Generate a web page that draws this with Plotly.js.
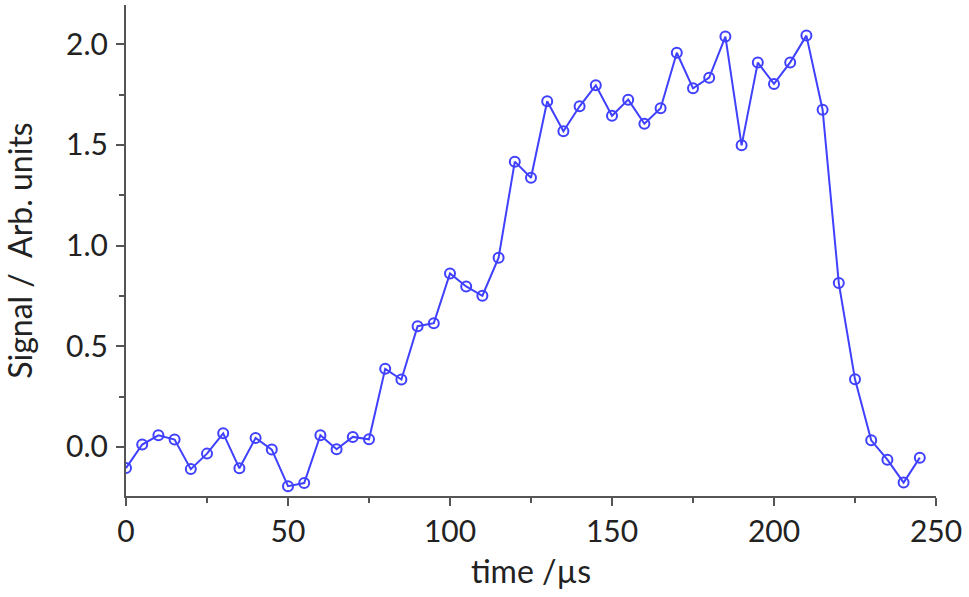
<!DOCTYPE html>
<html>
<head>
<meta charset="utf-8">
<script src="https://cdn.plot.ly/plotly-3.0.1.min.js"></script>
<style>
  html, body { margin: 0; padding: 0; background: #fff; }
  #chart { width: 969px; height: 597px; }
</style>
</head>
<body>
<div id="chart"></div>
<script>
// Data ------------------------------------------------------------------------
const time = [
  0, 5, 10, 15, 20, 25, 30, 35, 40, 45,
  50, 55, 60, 65, 70, 75, 80, 85, 90, 95,
  100, 105, 110, 115, 120, 125, 130, 135, 140, 145,
  150, 155, 160, 165, 170, 175, 180, 185, 190, 195,
  200, 205, 210, 215, 220, 225, 230, 235, 240, 245
]
const signal = [
  -0.105, 0.012, 0.058, 0.037, -0.11, -0.033, 0.068, -0.106, 0.045, -0.013,
  -0.195, -0.179, 0.058, -0.011, 0.05, 0.038, 0.388, 0.335, 0.60, 0.615,
  0.862, 0.797, 0.751, 0.94, 1.417, 1.337, 1.717, 1.568, 1.692, 1.796,
  1.645, 1.725, 1.605, 1.682, 1.958, 1.781, 1.834, 2.038, 1.498, 1.909,
  1.803, 1.91, 2.043, 1.675, 0.814, 0.336, 0.033, -0.063, -0.177, -0.053
]

// Plot ------------------------------------------------------------------------
const Plotly = window.Plotly
const blue = 'rgb(64,64,255)'
const tickFont = { family: 'Lato, "Open Sans", sans-serif', size: 30, color: '#222' }
const titleFont = { family: 'Lato, "Open Sans", sans-serif', size: 32, color: '#222' }

const axis = {
  showline: true,
  linecolor: '#555',
  linewidth: 2,
  ticks: 'outside',
  ticklen: 8,
  tickwidth: 2,
  tickcolor: '#555',
  showgrid: false,
  zeroline: false,
  mirror: false,
  tickfont: tickFont
}

Plotly.newPlot('chart', [{
  x: time,
  y: signal,
  type: 'scatter',
  mode: 'lines+markers',
  line: { color: blue, width: 2 },
  marker: {
    symbol: 'circle-open',
    size: 10,
    color: blue,
    line: { color: blue, width: 2 }
  }
}], {
  width: 969,
  height: 597,
  margin: { l: 126, r: 33, t: 5, b: 101 },
  paper_bgcolor: '#fff',
  plot_bgcolor: '#fff',
  showlegend: false,
  font: tickFont,
  xaxis: {
    ...axis,
    range: [0, 250],
    tick0: 0,
    dtick: 50,
    minor: { dtick: 25, ticks: 'outside', ticklen: 5, tickwidth: 2, tickcolor: '#555' },
    title: { text: 'time /µs', font: titleFont, standoff: 14 }
  },
  yaxis: {
    ...axis,
    range: [-0.2435, 2.195],
    tick0: 0,
    dtick: 0.5,
    tickformat: '.1f',
    ticklabelstandoff: 2,
    minor: { dtick: 0.25, ticks: 'outside', ticklen: 5, tickwidth: 2, tickcolor: '#555' },
    title: { text: 'Signal /  Arb. units', font: titleFont, standoff: 26 }
  }
}, { displayModeBar: false, staticPlot: true })
</script>
</body>
</html>
